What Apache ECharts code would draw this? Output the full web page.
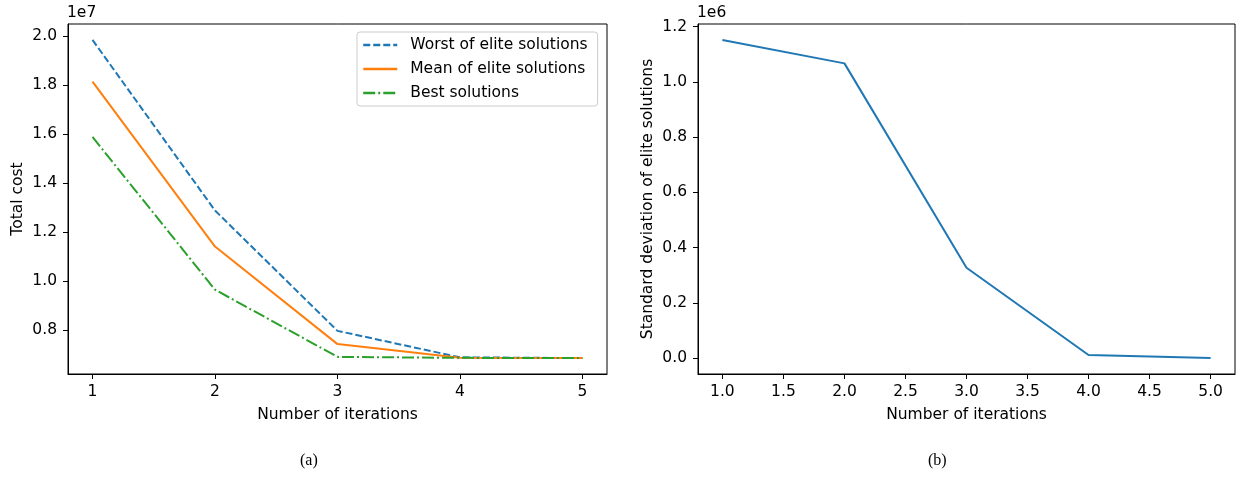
<!DOCTYPE html>
<html>
<head>
<meta charset="utf-8">
<script src="https://cdn.jsdelivr.net/npm/echarts@6/dist/echarts.min.js"></script>
<style>
  html, body { margin: 0; padding: 0; background: #fff; }
  #chart { width: 1242px; height: 477px; }
</style>
</head>
<body>
<div id="chart"></div>
<script>
// data
const iterations = [1, 2, 3, 4, 5]
const worstElite = [19840000, 12880000, 7970000, 6890000, 6860000]
const meanElite = [18140000, 11410000, 7430000, 6870000, 6860000]
const bestSolutions = [15880000, 9650000, 6910000, 6870000, 6860000]
const stdElite = [1152000, 1067000, 327000, 11000, 0]

const leftXTicks = [1, 2, 3, 4, 5]
const rightXTicks = [1, 1.5, 2, 2.5, 3, 3.5, 4, 4.5, 5]
const leftYTicks = [8e6, 10e6, 12e6, 14e6, 16e6, 18e6, 20e6]
const rightYTicks = [0, 2e5, 4e5, 6e5, 8e5, 10e5, 12e5]

const FONT = 'DejaVu Sans'
const FS = 15.5

function pairs(xs, ys) {
  return xs.map((x, i) => [x, ys[i]])
}

// matplotlib style autoscale margin (5%)
function padRange(values, pad) {
  let lo = Math.min(...values)
  let hi = Math.max(...values)
  let m = (hi - lo) * pad
  return [lo - m, hi + m]
}

const leftRange = padRange(worstElite.concat(meanElite, bestSolutions), 0.05)
const rightRange = padRange(stdElite, 0.05)

function xAxisFor(gridIndex, ticks, fmt) {
  return {
    type: 'value',
    gridIndex,
    min: 0.8,
    max: 5.2,
    name: 'Number of iterations',
    nameLocation: 'middle',
    nameGap: 33,
    nameTextStyle: { color: '#000', fontFamily: FONT, fontSize: FS },
    splitLine: { show: false },
    axisLine: { show: true, onZero: false, lineStyle: { color: '#000', width: 1 } },
    axisTick: { show: true, length: 5, customValues: ticks, lineStyle: { color: '#000', width: 1 } },
    axisLabel: {
      customValues: ticks,
      margin: 10,
      color: '#000',
      fontFamily: FONT,
      fontSize: FS,
      formatter: fmt
    }
  }
}

function yAxisFor(gridIndex, range, ticks, scale, name) {
  return {
    type: 'value',
    gridIndex,
    min: range[0],
    max: range[1],
    name,
    nameLocation: 'middle',
    nameRotate: 90,
    nameGap: 42,
    nameTextStyle: { color: '#000', fontFamily: FONT, fontSize: FS },
    splitLine: { show: false },
    axisLine: { show: true, lineStyle: { color: '#000', width: 1 } },
    axisTick: { show: true, length: 5, customValues: ticks, lineStyle: { color: '#000', width: 1 } },
    axisLabel: {
      customValues: ticks,
      margin: 11,
      color: '#000',
      fontFamily: FONT,
      fontSize: FS,
      formatter: v => (v / scale).toFixed(1)
    }
  }
}

function lineSeries(name, data, color, type, xi) {
  return {
    name,
    type: 'line',
    xAxisIndex: xi,
    yAxisIndex: xi,
    data,
    symbol: 'none',
    silent: true,
    animation: false,
    lineStyle: { color, width: 2, type },
    itemStyle: { color }
  }
}

const chart = echarts.init(document.getElementById('chart'), null, { renderer: 'canvas' })

const titleStyle = { fontFamily: FONT, fontSize: FS, fontWeight: 'normal', color: '#000' }
const captionStyle = { fontFamily: 'Liberation Serif', fontSize: 16, fontWeight: 'normal', color: '#000' }

const option = {
  animation: false,
  backgroundColor: '#fff',
  title: [
    { text: '1e7', left: 67, top: 5, textStyle: titleStyle, padding: 0 },
    { text: '1e6', left: 697, top: 5, textStyle: titleStyle, padding: 0 },
    { text: '(a)', left: 300, top: 453, textStyle: captionStyle, padding: 0 },
    { text: '(b)', left: 928, top: 453, textStyle: captionStyle, padding: 0 }
  ],
  legend: {
    left: 357,
    top: 32,
    orient: 'vertical',
    padding: [5, 10, 5, 5],
    itemWidth: 34,
    itemHeight: 14,
    itemGap: 8,
    borderColor: '#ccc',
    borderWidth: 1,
    borderRadius: 3,
    backgroundColor: 'rgba(255,255,255,0.8)',
    // hide the circle that line series add to their legend icon
    itemStyle: { opacity: 0 },
    lineStyle: { width: 2.5 },
    textStyle: { fontFamily: FONT, fontSize: FS, color: '#000', padding: [0, 0, 0, 8] },
    data: ['Worst of elite solutions', 'Mean of elite solutions', 'Best solutions']
  },
  grid: [
    { left: 68, top: 24, width: 539, height: 350, show: true, borderColor: '#000', borderWidth: 1, backgroundColor: 'transparent' },
    { left: 698, top: 24, width: 537, height: 350, show: true, borderColor: '#000', borderWidth: 1, backgroundColor: 'transparent' }
  ],
  xAxis: [
    xAxisFor(0, leftXTicks, v => String(v)),
    xAxisFor(1, rightXTicks, v => v.toFixed(1))
  ],
  yAxis: [
    yAxisFor(0, leftRange, leftYTicks, 1e7, 'Total cost'),
    yAxisFor(1, rightRange, rightYTicks, 1e6, 'Standard deviation of elite solutions')
  ],
  series: [
    lineSeries('Worst of elite solutions', pairs(iterations, worstElite), '#1f77b4', [7, 3], 0),
    lineSeries('Mean of elite solutions', pairs(iterations, meanElite), '#ff7f0e', 'solid', 0),
    lineSeries('Best solutions', pairs(iterations, bestSolutions), '#2ca02c', [12, 3, 2, 3], 0),
    lineSeries('std', pairs(iterations, stdElite), '#1f77b4', 'solid', 1)
  ]
}

chart.setOption(option)
</script>
</body>
</html>
